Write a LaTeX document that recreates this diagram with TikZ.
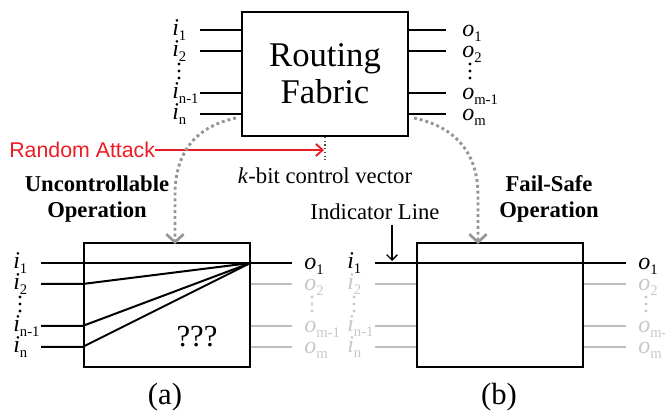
\documentclass[tikz,border=0pt]{standalone}
\usepackage{fontspec}
\setmainfont{Liberation Serif}
\newfontfamily\attackfont{Liberation Sans}
\usetikzlibrary{arrows.meta}

\definecolor{ghostline}{RGB}{190,190,190}
\definecolor{ghosttext}{RGB}{200,200,200}
\definecolor{flowgray}{RGB}{150,150,150}
\definecolor{attackred}{RGB}{236,28,36}

\tikzset{
  fabricbox/.style={draw, line width=1.5pt, inner sep=0pt, minimum width=124.5pt, minimum height=93pt},
  wire/.style={line width=1.5pt},
  ghostwire/.style={line width=1.5pt, ghostline},
  portlabel/.style={anchor=base west, inner sep=0pt, font=\fontsize{18}{20}\selectfont},
  caption/.style={font=\fontsize{17}{20}\selectfont, align=center},
  flow/.style={flowgray, line width=2.2pt, dash pattern=on 2.2pt off 2.2pt,
    -{Straight Barb[length=6pt,width=13pt,line width=2pt]}},
}

\newcommand{\portsub}[1]{\raisebox{-3.5pt}{\fontsize{11}{11}\selectfont #1}}
\newcommand{\inlab}[1]{\textit{i}\portsub{#1}}
\newcommand{\outlab}[1]{\textit{o}\portsub{#1}}

\begin{document}
\begin{tikzpicture}[x=0.75pt,y=0.75pt,yscale=-1,xscale=1]
        \useasboundingbox (0,0) rectangle (665,420);

        %Shape: Routing Fabric
        \node[fabricbox, font=\fontsize{26}{28}\selectfont, align=center] (fabric) at (325,74) {Routing\\Fabric};
        %Shape: Uncontrollable box
        \node[fabricbox] (ua) at (166.5,305) {};
        %Shape: Fail-Safe box
        \node[fabricbox] (fs) at (500,305) {};

        %Straight Lines: fabric wires
        \foreach \y/\k in {30/1,51/2,93/3,114/4}{
          \coordinate (fin\k) at (200,\y);
          \coordinate (fout\k) at (446,\y);
          \draw[wire] (fin\k) -- (fin\k -| fabric.west);
          \draw[wire] (fabric.east |- fout\k) -- (fout\k);
        }

        %Straight Lines: uncontrollable wires
        \foreach \y/\k in {263/1,284/2,326/3,347/4}{
          \coordinate (ain\k) at (41,\y);
          \coordinate (aout\k) at (292,\y);
        }
        \draw[wire] (ain1) -- (aout1);
        \draw[wire] (ain2) -- (ain2 -| ua.west) -- (ua.east |- ain1);
        \draw[wire] (ain3) -- (ain3 -| ua.west) -- (ua.east |- ain1);
        \draw[wire] (ain4) -- (ain4 -| ua.west) -- (ua.east |- ain1);
        \foreach \k in {2,3,4}{
          \draw[ghostwire] (ua.east |- aout\k) -- (aout\k);
        }

        %Straight Lines: fail-safe wires
        \foreach \y/\k in {263/1,284/2,326/3,347/4}{
          \coordinate (bin\k) at (375,\y);
          \coordinate (bout\k) at (626,\y);
        }
        \draw[wire] (bin1) -- (bout1);
        \foreach \k in {2,3,4}{
          \draw[ghostwire] (bin\k) -- (bin\k -| fs.west);
          \draw[ghostwire] (fs.east |- bout\k) -- (bout\k);
        }

        % Text Node
        \node[portlabel] (fi1) at (172,36) {\inlab{1}};
        \node[portlabel] (fi2) at (172,57) {\inlab{2}};
        \node[portlabel] (fi3) at (172,99) {\inlab{n-1}};
        \node[portlabel] (fi4) at (172,120) {\inlab{n}};
        \node[portlabel] (fo1) at (462,37) {\outlab{1}};
        \node[portlabel] (fo2) at (462,58) {\outlab{2}};
        \node[portlabel] (fo3) at (462,100) {\outlab{m-1}};
        \node[portlabel] (fo4) at (462,121) {\outlab{m}};
        % Text Node
        \node[portlabel] (ai1) at (13,269) {\inlab{1}};
        \node[portlabel] (ai2) at (13,290) {\inlab{2}};
        \node[portlabel] (ai3) at (13,332) {\inlab{n-1}};
        \node[portlabel] (ai4) at (13,353) {\inlab{n}};
        \node[portlabel] (ao1) at (304,270) {\outlab{1}};
        \node[portlabel, ghosttext] (ao2) at (304,291) {\outlab{2}};
        \node[portlabel, ghosttext] (ao3) at (304,333) {\outlab{m-1}};
        \node[portlabel, ghosttext] (ao4) at (304,354) {\outlab{m}};
        % Text Node
        \node[portlabel] (bi1) at (347,269) {\inlab{1}};
        \node[portlabel, ghosttext] (bi2) at (347,290) {\inlab{2}};
        \node[portlabel, ghosttext] (bi3) at (347,332) {\inlab{n-1}};
        \node[portlabel, ghosttext] (bi4) at (347,353) {\inlab{n}};
        \node[portlabel] (bo1) at (638,270) {\outlab{1}};
        \node[portlabel, ghosttext] (bo2) at (638,291) {\outlab{2}};
        \node[portlabel, ghosttext] (bo3) at (638,333) {\outlab{m-1}};
        \node[portlabel, ghosttext] (bo4) at (638,354) {\outlab{m}};

        %Shape: vertical dots
        \foreach \dy in {0,7,14}{
          \fill (179,64+\dy) circle (1.6);
          \fill (470,64+\dy) circle (1.6);
          \fill (20,297+\dy) circle (1.6);
          \fill[ghosttext] (312,297+\dy) circle (1.6);
          \fill[ghosttext] (354,297+\dy) circle (1.6);
          \fill[ghosttext] (646,297+\dy) circle (1.6);
        }

        % Text Node
        \node[font=\fontsize{23}{26}\selectfont] (qmarks) at (197,337) {???};
        \node[font=\fontsize{23}{26}\selectfont] (capa) at (165,397) {(a)};
        \node[font=\fontsize{23}{26}\selectfont] (capb) at (499,397) {(b)};

        % Text Node
        \node[caption, font=\fontsize{17}{20}\selectfont\bfseries] (uncontrol) at (97,199) {Uncontrollable\\Operation};
        \node[caption, font=\fontsize{17}{20}\selectfont\bfseries] (failsafe) at (549,199) {Fail-Safe\\Operation};
        \node[caption] (ctrlvec) at (325,176) {\textit{k}-bit control vector};
        \node[caption] (indicator) at (375,212) {Indicator Line};
        \node[anchor=west, inner sep=0pt, text=attackred, font=\attackfont\fontsize{16}{19}\selectfont] (attack) at (9,150) {Random Attack};

        %Straight Lines: control vector
        \coordinate (ctrl) at (324,150);
        \coordinate (ctrlend) at (325,160);
        \draw[dotted, line width=0.8pt, black!70] (fabric.south) -- (ctrlend);
        \draw[attackred, line width=1.4pt, -{Straight Barb[length=5pt,width=9pt]}] (attack.east) -- (ctrl);

        %Curve Lines: fabric to both cases
        \coordinate (lflow) at (236,118);
        \coordinate (ltip) at (175,244);
        \coordinate (rflow) at (414,118);
        \coordinate (rtip) at (478,244);
        \draw[flow] (lflow) .. controls (198,126) and (175,150) .. (175,195) -- (ltip);
        \draw[flow] (rflow) .. controls (452,126) and (478,150) .. (478,195) -- (rtip);

        %Straight Lines: indicator arrow
        \coordinate (indtip) at (392,261);
        \draw[line width=1pt, -{Straight Barb[length=4pt,width=8pt]}] (indtip |- indicator.south) -- (indtip);

\end{tikzpicture}
\end{document}
